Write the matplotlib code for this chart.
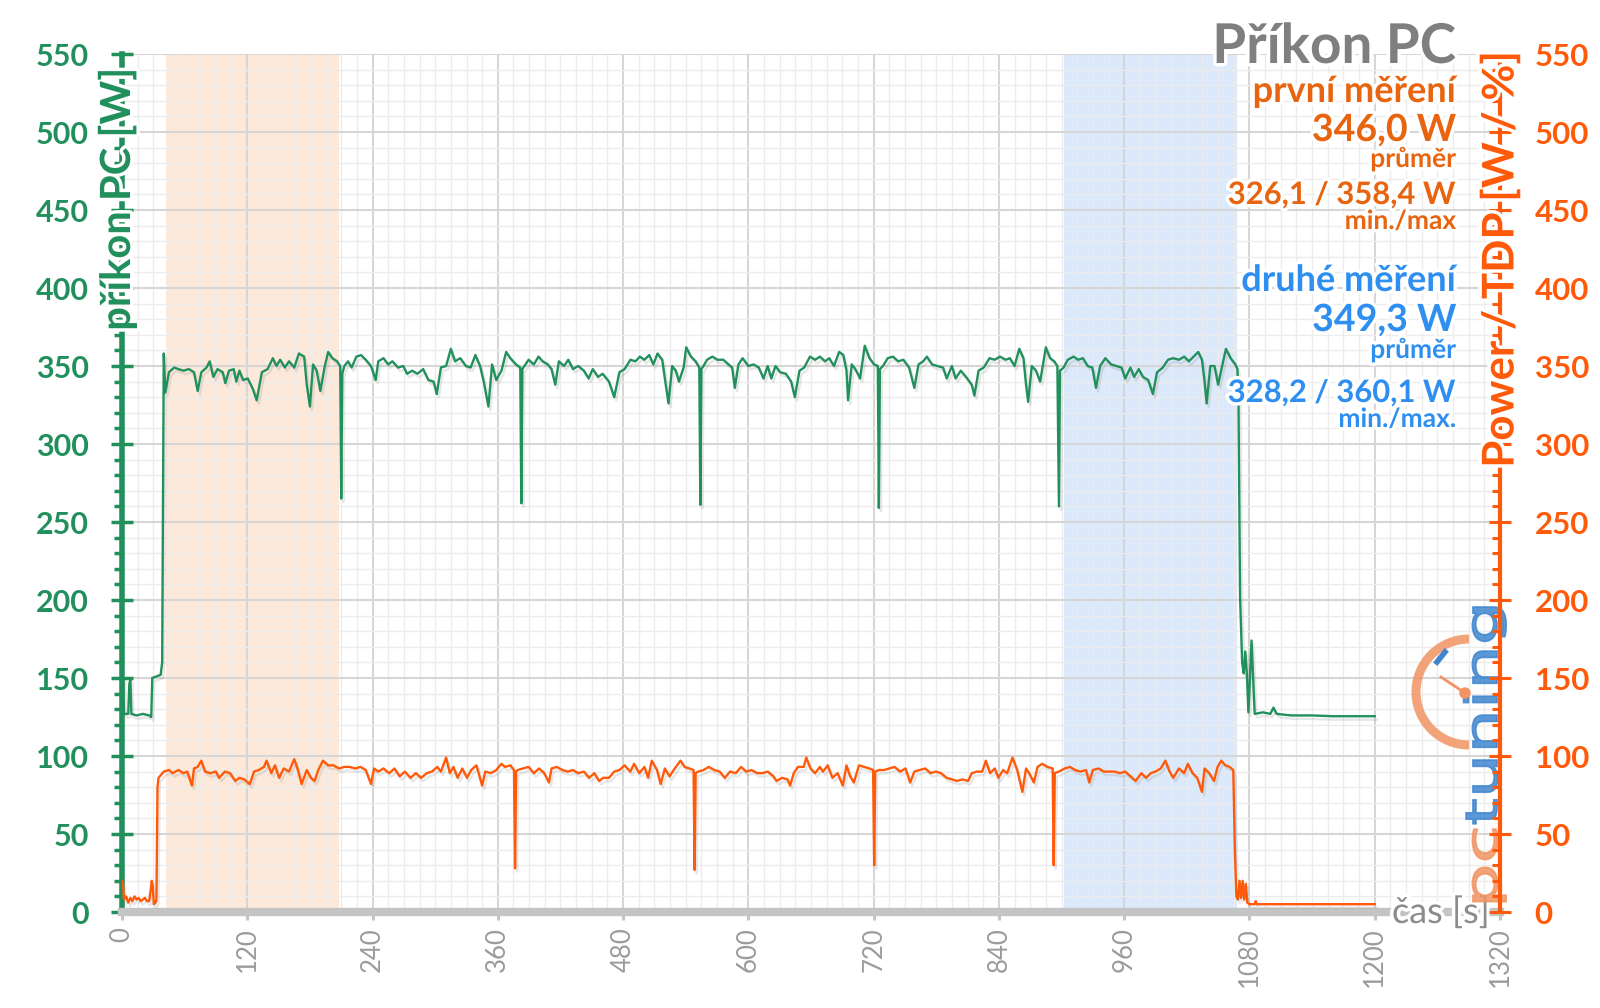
import numpy as np
import matplotlib.pyplot as plt
from matplotlib import patheffects as pe
from matplotlib.patches import Arc, Circle, PathPatch
from matplotlib.lines import Line2D
from matplotlib.textpath import TextPath
from matplotlib.font_manager import FontProperties
from matplotlib.transforms import Affine2D, IdentityTransform
from matplotlib.ticker import MultipleLocator

plt.rcParams["font.family"] = ["Lato", "DejaVu Sans"]

# Příkon PC (green, left axis) - time [s] / power [W]
green_time = [
    0, 1, 2, 6, 7, 8, 9, 14, 20, 26,
    28, 29, 33, 37, 38.5,
    40, 41.5, 45, 50, 54, 59, 64, 69, 72.5, 76,
    81, 84, 87.5, 91.5, 96.5, 99, 102.5, 107, 109.5, 112.5,
    116, 120.5, 125.5, 129, 134, 139.5, 144.5, 148, 151.5, 156,
    160, 165, 169.5, 174.5, 177, 180, 183, 186.5, 190, 194,
    197.5, 201.5, 206, 209, 210, 211, 213,
    216.5, 220, 224.5, 229, 233.5, 238.5, 243, 245.5, 250.5, 255,
    259, 264.5, 269.5, 273, 278, 283, 288.5, 293.5, 298.5, 301.5,
    305.5, 310.5, 315, 319, 324, 329.5, 334, 338.5, 343, 346.5,
    351, 354.5, 358.5, 363.5, 368, 372, 377.5, 381.5, 382.5, 383.5,
    385.5,
    389.5, 394.5, 399, 403, 408, 411.5, 415, 418.5, 423.5, 427.5,
    432, 437, 442.5, 447, 451, 456, 460.5, 466.5, 471.5, 476.5,
    481.5, 487, 492, 496, 500.5, 505, 509, 513, 517.5, 520,
    523.5, 527, 530.5, 533.5, 538, 540.5, 545, 549.5, 553, 554,
    555, 557,
    560.5, 565.5, 570.5, 576, 581, 584.5, 587, 590.5, 594.5, 600,
    605, 610, 614.5, 618.5, 622, 626, 630.5, 636, 641, 644.5,
    649, 653.5, 659, 664, 668.5, 673.5, 677.5, 682, 687, 691,
    694, 695.5, 699, 702.5, 707, 711.5, 716, 720.5, 724, 725,
    726, 729,
    733.5, 738.5, 743.5, 748.5, 754, 759, 763, 767.5, 771, 776,
    781, 786.5, 790, 795, 798.5, 803.5, 808.5, 814, 816.5, 820.5,
    825.5, 831, 836, 841, 846.5, 850.5, 855, 859.5, 863.5, 866,
    868, 871.5, 875.5, 879.5, 885, 889, 893, 896, 897.5, 898.5,
    902,
    906, 911.5, 916, 920.5, 925, 929.5, 933, 937, 942, 947.5,
    952.5, 957.5, 961, 966, 969.5, 974, 978, 983, 987.5, 991.5,
    997, 1002, 1007, 1012.5, 1017.5, 1022, 1026.5, 1031, 1034.5, 1037,
    1039, 1042.5, 1046.5, 1050, 1053.5, 1057.5, 1062, 1066.5, 1068.5,
    1069.5, 1071, 1073, 1074.5, 1076, 1077.5, 1079, 1080.5, 1082, 1083.5,
    1085, 1093, 1100, 1103, 1106, 1120, 1140, 1160, 1180, 1200,
]
green_power = [
    126, 150, 127, 127, 146, 149, 127, 126, 127, 126,
    125, 150, 151, 152, 160,
    358, 333, 346, 349, 348, 347, 348, 346, 334, 346,
    349, 353, 343, 348, 346, 339, 347, 348, 340, 347,
    341, 342, 335, 328, 346, 348, 355, 350, 354, 349,
    353, 349, 358, 356, 338, 324, 351, 347, 334, 349,
    359, 355, 353, 350, 265, 345, 350,
    353, 349, 356, 357, 354, 350, 341, 353, 355, 351,
    353, 349, 350, 345, 347, 345, 348, 341, 340, 332,
    349, 350, 361, 353, 355, 350, 349, 357, 350, 340,
    324, 351, 341, 347, 359, 355, 351, 349, 262, 348,
    350,
    354, 351, 356, 353, 351, 348, 338, 353, 350, 354,
    348, 350, 347, 342, 348, 343, 345, 340, 330, 346,
    348, 354, 353, 356, 354, 357, 351, 358, 354, 342,
    326, 350, 347, 340, 349, 362, 356, 353, 349, 261,
    348, 350,
    354, 356, 354, 354, 351, 349, 336, 351, 355, 350,
    351, 349, 342, 350, 342, 350, 346, 345, 340, 330,
    347, 349, 356, 354, 356, 353, 355, 350, 359, 357,
    347, 328, 351, 348, 342, 363, 355, 351, 350, 259,
    348, 350,
    355, 356, 353, 354, 349, 336, 351, 353, 356, 351,
    350, 349, 342, 350, 342, 347, 343, 338, 331, 347,
    349, 355, 354, 356, 354, 355, 350, 361, 355, 338,
    327, 350, 347, 340, 362, 355, 353, 350, 260, 347,
    349,
    354, 356, 354, 355, 350, 349, 336, 350, 355, 351,
    350, 349, 342, 349, 343, 348, 343, 341, 332, 346,
    349, 354, 355, 354, 356, 353, 356, 359, 354, 340,
    326, 350, 350, 338, 349, 361, 355, 351, 348,
    327, 202, 160, 153, 167, 153, 128, 150, 174, 150,
    127, 128, 127, 131, 127, 126, 126, 125.5, 125.5, 125.5,
]

# Power / TDP (orange, right axis)
orange_time = [
    0, 1, 2, 4, 6, 8, 10, 12, 14, 16,
    18, 20, 22, 24, 26, 27.5, 28.5, 29.5, 30.5, 32,
    33, 34, 35,
    40, 45, 48.5, 54, 59, 62.5, 67, 69, 72.5, 76,
    79.5, 84.5, 90, 93, 98.5, 103.5, 108.5, 112.5, 117, 122.5,
    126.5, 131, 136, 138.5, 143, 146.5, 150.5, 155, 160, 165,
    168.5, 172, 177, 181, 184.5, 188, 192.5, 197.5, 202.5, 208,
    213, 218, 223.5, 228.5, 233.5, 238.5, 241.5, 245.5, 250.5, 256,
    261, 266, 271, 276.5, 281.5, 286.5, 292, 297, 302, 305.5,
    310.5, 314, 317.5, 321.5, 326, 330.5, 334.5, 339.5, 345, 348,
    353.5, 358.5, 363.5, 367, 372, 375.5, 376.5, 377.5, 379, 384,
    389.5, 394.5, 399.5, 404.5, 409, 411.5, 416.5, 422, 427, 432,
    437, 442.5, 447.5, 452.5, 457, 461, 466.5, 471.5, 476.5, 481.5,
    487, 490.5, 495.5, 500.5, 504, 507.5, 512.5, 516, 520, 524.5,
    529.5, 535, 539, 543.5, 547.5, 548.5, 549.5, 552, 557,
    562, 567.5, 572.5, 577.5, 582.5, 588, 593, 598, 603, 608.5,
    613.5, 618.5, 624, 627, 632.5, 637.5, 640, 643.5, 647.5, 653,
    655.5, 659.5, 664, 668.5, 671.5, 676, 680.5, 685.5, 690.5, 694,
    697.5, 701, 706, 711, 716, 719.5, 720.5, 721.5, 725, 730,
    735, 740, 745.5, 750.5, 755, 759, 764, 769.5, 774.5, 779.5,
    784.5, 790, 795, 800, 805, 810.5, 814, 819, 824, 827.5,
    831.5, 836, 839.5, 844, 848, 853, 857.5, 862.5, 866, 869,
    873.5, 877, 881.5, 886.5, 891.5, 892.5, 893.5, 897.5, 903, 908,
    913, 918, 923.5, 926.5, 930, 935.5, 940.5, 945.5, 950.5, 956,
    961, 966, 971, 976.5, 981, 985.5, 990, 995, 999.5, 1003.5,
    1007, 1012.5, 1017.5, 1021, 1025.5, 1030, 1034.5, 1037, 1041.5, 1046,
    1049.5, 1053, 1057, 1061, 1064.5,
    1066, 1067.5, 1069, 1070.5, 1072, 1073.5, 1075, 1076.5, 1078, 1080,
    1085, 1086, 1087, 1100, 1150, 1200,
]
orange_power = [
    20, 17, 8, 10, 6, 9, 7, 10, 8, 9,
    7, 8, 9, 7, 7, 14, 20, 16, 5, 6,
    8, 80, 86,
    90, 91, 89, 91, 89, 90, 81, 92, 93, 97,
    90, 89, 90, 86, 90, 89, 84, 86, 85, 82,
    90, 91, 93, 97, 89, 94, 86, 92, 90, 98,
    91, 82, 91, 86, 84, 91, 97, 94, 94, 92,
    93, 93, 92, 93, 91, 82, 92, 90, 92, 89,
    92, 87, 90, 86, 89, 86, 89, 90, 93, 90,
    99, 89, 93, 86, 92, 86, 91, 94, 81, 90,
    89, 91, 95, 93, 94, 91, 28, 90, 91, 92,
    93, 89, 92, 89, 83, 92, 93, 91, 90, 91,
    89, 90, 86, 89, 84, 86, 86, 90, 91, 94,
    90, 95, 89, 93, 86, 97, 91, 82, 92, 87,
    92, 97, 93, 92, 91, 27, 89, 90, 91,
    93, 91, 90, 86, 90, 89, 93, 90, 91, 89,
    89, 90, 87, 84, 86, 85, 81, 89, 93, 93,
    99, 92, 89, 93, 90, 94, 86, 89, 81, 94,
    87, 83, 94, 93, 92, 91, 30, 90, 91, 91,
    92, 93, 90, 92, 83, 90, 91, 92, 89, 90,
    89, 86, 85, 84, 85, 84, 89, 90, 90, 97,
    89, 92, 86, 91, 89, 99, 91, 77, 92, 89,
    83, 93, 95, 93, 92, 30, 89, 90, 92, 93,
    91, 90, 91, 83, 91, 92, 90, 90, 90, 89,
    90, 87, 84, 89, 86, 89, 90, 92, 97, 90,
    86, 92, 89, 95, 89, 86, 77, 92, 89, 84,
    93, 97, 94, 93, 91,
    40, 10, 8, 20, 9, 20, 8, 18, 6, 5,
    5, 7, 5, 5, 5, 5,
]

# measured windows [s]
first_run = [42, 208]
second_run = [902, 1068]

title = "Příkon PC"
first_label, first_avg, first_range = "první měření", "346,0 W", "326,1 / 358,4 W"
second_label, second_avg, second_range = "druhé měření", "349,3 W", "328,2 / 360,1 W"

GREEN = "#22905c"
ORANGE = "#ff5a0a"
TXT_ORANGE = "#e8640e"
TXT_BLUE = "#2f8ff0"
GRAY = "#9b9b9b"

W, H = 1600, 1008
fig = plt.figure(figsize=(W / 100, H / 100), dpi=100)
ax = fig.add_axes([122 / W, 96 / H, 1378 / W, 858 / H])
ax2 = ax.twinx()

ax.axvspan(*first_run, color="#fde9d9", lw=0, zorder=0.2)
ax.axvspan(*second_run, color="#dbe9fb", lw=0, zorder=0.2)

shadow = [pe.SimpleLineShadow(offset=(1.5, -2.5), shadow_color="#888888", alpha=0.2), pe.Normal()]
ax.plot(green_time, green_power, color=GREEN, lw=1.7, zorder=3, path_effects=shadow)
ax2.plot(orange_time, orange_power, color=ORANGE, lw=1.7, zorder=3, path_effects=shadow)

ax.set_xlim(0, 1320)
ax.set_ylim(0, 550)
ax2.set_ylim(0, 550)

# grid
ax.xaxis.set_minor_locator(MultipleLocator(15))
ax.yaxis.set_minor_locator(MultipleLocator(10))
ax2.yaxis.set_minor_locator(MultipleLocator(10))
ax.set_axisbelow(True)
ax.grid(which="major", color="#d6d6d6", lw=1.5)
ax.grid(which="minor", color="#ececec", lw=1.0)

# spines
for s in ["top", "right"]:
    ax.spines[s].set_visible(False)
for s in ["top", "left", "bottom"]:
    ax2.spines[s].set_visible(False)
ax.spines["left"].set(color=GREEN, lw=4)
ax.spines["bottom"].set(color="#c4c4c4", lw=6)
ax2.spines["right"].set(color=ORANGE, lw=3)

# ticks
ax.tick_params(axis="y", which="major", direction="inout", length=16, width=2.5, color=GREEN, pad=16)
ax.tick_params(axis="y", which="minor", direction="out", length=6, width=2.5, color=GREEN)
ax.tick_params(axis="x", which="major", direction="out", length=6, width=2.2, color="#c4c4c4", pad=5)
ax.tick_params(axis="x", which="minor", length=0)
ax2.tick_params(axis="y", which="major", direction="inout", length=16, width=2.2, color=ORANGE, pad=17)
ax2.tick_params(axis="y", which="minor", direction="in", length=6, width=2.2, color=ORANGE)

yt = np.arange(0, 551, 50)
ax.set_yticks(yt, labels=[str(v) for v in yt], color=GREEN, fontsize=22, fontweight="bold")
ax2.set_yticks(yt, labels=[str(v) for v in yt], color=ORANGE, fontsize=22.5, fontweight="bold")
xt = np.arange(0, 1321, 120)
ax.set_xticks(xt, labels=[str(v) for v in xt], rotation=90, color=GRAY, fontsize=18.5)

# axis labels
halo = [pe.withStroke(linewidth=5, foreground="white")]
fig.text(117 / W, 1 - 68 / H, "příkon PC [W]", rotation=90, ha="center", va="top",
         color=GREEN, fontsize=30, fontweight="bold", path_effects=halo)
fig.text(1500 / W, 1 - 51 / H, "Power / TDP [W / %]", rotation=90, ha="center", va="top",
         color=ORANGE, fontsize=31.5, fontweight="bold", path_effects=halo)
ax.text(1310, 0, "čas [s]", ha="right", va="center", color="#8c8c8c", fontsize=26,
        path_effects=halo, clip_on=False, zorder=5)

# summary block (top right)
block = [
    (title, 63, 39.5, "#7f7f7f"),
    (first_label, 102, 26, TXT_ORANGE),
    (first_avg, 141, 27, TXT_ORANGE),
    ("průměr", 167, 19, TXT_ORANGE),
    (first_range, 204, 22.3, TXT_ORANGE),
    ("min./max", 229, 19, TXT_ORANGE),
    (second_label, 291, 26, TXT_BLUE),
    (second_avg, 331, 27, TXT_BLUE),
    ("průměr", 358, 19, TXT_BLUE),
    (second_range, 402, 22.3, TXT_BLUE),
    ("min./max.", 427, 19, TXT_BLUE),
]
for txt, y, size, col in block:
    fig.text(1456 / W, 1 - y / H, txt, ha="right", va="baseline", color=col,
             fontsize=size, fontweight="bold", path_effects=halo, zorder=6)


# pctuning watermark next to the right axis
def draw_logo(axis):
    prop = FontProperties(family="DejaVu Sans", weight="normal")
    pc = TextPath((0, 0), "pc", size=1, prop=prop)
    tuning = TextPath((0, 0), "tuning", size=1, prop=prop)
    gap = 0.05
    w_pc = pc.get_extents().x1 + gap
    total = w_pc + tuning.get_extents().x1
    base = Affine2D().scale(301 / total, 44).rotate_deg(90).translate(1497, H - 908)
    axis.add_artist(PathPatch(pc, transform=base, facecolor="#f29363", edgecolor="#f29363", lw=1.2,
                              alpha=0.85, clip_on=False, zorder=1))
    axis.add_artist(PathPatch(tuning, transform=Affine2D().translate(w_pc, 0) + base,
                              facecolor="#3f86cf", edgecolor="#3f86cf", lw=1.2,
                              alpha=0.85, clip_on=False, zorder=1))
    idt = IdentityTransform()
    axis.add_artist(Arc((1469, H - 692), 106, 106, theta1=90, theta2=270, lw=6.5,
                        color="#f29363", alpha=0.85, transform=idt, clip_on=False, zorder=1))
    axis.add_artist(Line2D([1465, 1441], [H - 693, H - 677], color="#f29363", lw=2,
                           transform=idt, clip_on=False, zorder=1))
    axis.add_artist(Circle((1465, H - 693), 5, color="#f29363", transform=idt, clip_on=False, zorder=1))
    axis.add_artist(Line2D([1437, 1445], [H - 662, H - 652], color="#3f86cf", lw=4,
                           transform=idt, clip_on=False, zorder=1))


draw_logo(ax2)

fig.savefig("out.png", dpi=100)
